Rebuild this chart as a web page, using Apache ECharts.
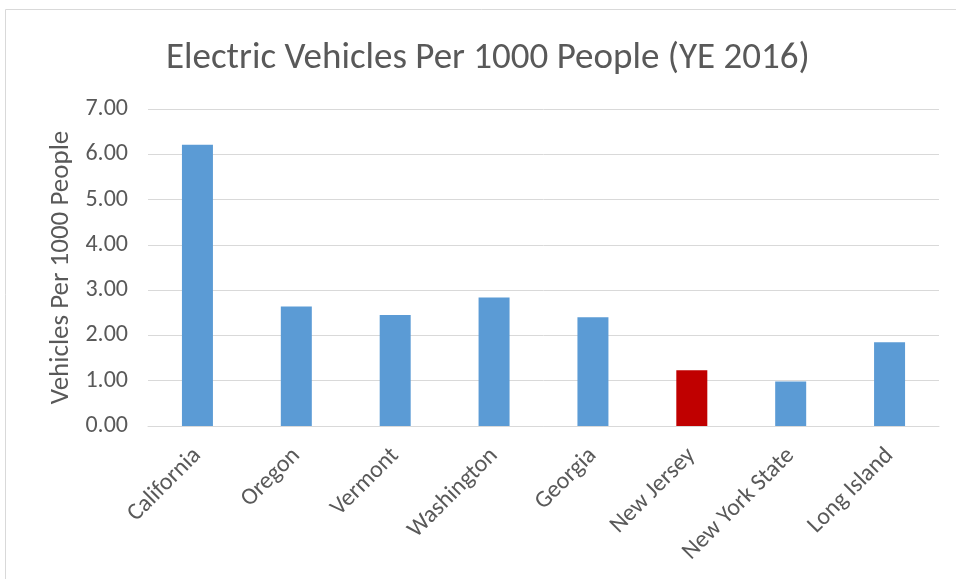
<!DOCTYPE html>
<html>
<head>
<meta charset="utf-8">
<script src="https://cdn.jsdelivr.net/npm/echarts@6/dist/echarts.min.js"></script>
<style>
  html, body { margin: 0; padding: 0; background: #fff; }
  #chart { width: 956px; height: 579px; }
</style>
</head>
<body>
<div id="chart"></div>
<script>
// data
var states = ['California', 'Oregon', 'Vermont', 'Washington', 'Georgia', 'New Jersey', 'New York State', 'Long Island'];
var perThousand = [6.21, 2.64, 2.45, 2.84, 2.40, 1.23, 0.98, 1.85];
var highlighted = ['New Jersey'];

var blue = '#5b9bd5';
var red = '#c00000';
var textColor = '#595959';
var font = 'Carlito, Calibri, "Open Sans", sans-serif';

var myChart = echarts.init(document.getElementById('chart'));

var option = {
  animation: false,
  title: {
    text: 'Electric Vehicles Per 1000 People (YE 2016)',
    left: 161,
    top: 35,
    textStyle: {
      color: textColor,
      fontFamily: font,
      fontWeight: 'normal',
      fontSize: 37
    }
  },
  graphic: [{
    // chart frame
    type: 'rect',
    shape: { x: 5.5, y: 9.5, width: 1000, height: 700 },
    style: { fill: 'none', stroke: '#d9d9d9', lineWidth: 1 },
    silent: true
  }],
  grid: {
    left: 148,
    right: 17,
    top: 109,
    bottom: 153
  },
  xAxis: {
    type: 'category',
    data: states,
    axisTick: { show: false },
    axisLine: { lineStyle: { color: '#d9d9d9', width: 1 } },
    axisLabel: {
      rotate: 45,
      interval: 0,
      margin: 26,
      color: textColor,
      fontFamily: font,
      fontSize: 24
    }
  },
  yAxis: {
    type: 'value',
    min: 0,
    max: 7,
    interval: 1,
    name: 'Vehicles Per 1000 People',
    nameLocation: 'middle',
    nameGap: 71,
    nameTextStyle: {
      color: textColor,
      fontFamily: font,
      fontSize: 27
    },
    axisLine: { show: false },
    axisTick: { show: false },
    axisLabel: {
      margin: 20,
      color: textColor,
      fontFamily: font,
      fontSize: 24,
      formatter: function (v) { return v.toFixed(2); }
    },
    splitLine: { lineStyle: { color: '#d9d9d9', width: 1 } }
  },
  series: [{
    type: 'bar',
    barWidth: 31,
    data: perThousand.map(function (v, i) {
      return {
        value: v,
        itemStyle: { color: highlighted.indexOf(states[i]) !== -1 ? red : blue }
      };
    })
  }]
};

myChart.setOption(option);
</script>
</body>
</html>
